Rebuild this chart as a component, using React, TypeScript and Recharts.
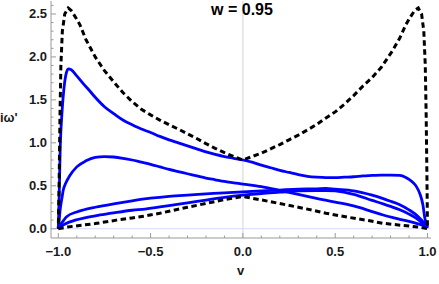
import React from 'react';
import { LineChart, Line, XAxis, YAxis, ReferenceLine } from 'recharts';

// values, as [v, iω'] pairs
const dashedLoop: [number, number][] = [
  [-1, 0], [-0.95, 0.02], [-0.865, 0.043], [-0.8, 0.06], [-0.684, 0.1], [-0.6, 0.125],
  [-0.53, 0.148], [-0.45, 0.18], [-0.377, 0.215], [-0.3, 0.25], [-0.196, 0.296], [-0.1, 0.34],
  [0, 0.375], [0.1, 0.335], [0.192, 0.296], [0.3, 0.25], [0.373, 0.218], [0.45, 0.18],
  [0.571, 0.133], [0.68, 0.095], [0.76, 0.063], [0.86, 0.04], [0.95, 0.02], [1, 0],
  [0.997, 0.6], [0.993, 1.3], [0.988, 1.9], [0.98, 2.3], [0.968, 2.5], [0.95, 2.57],
  [0.93, 2.54], [0.9, 2.44], [0.882, 2.37], [0.85, 2.22], [0.81, 2.07], [0.75, 1.88],
  [0.7, 1.76], [0.65, 1.66], [0.6, 1.55], [0.55, 1.45], [0.5, 1.36], [0.45, 1.29],
  [0.4, 1.215], [0.35, 1.15], [0.3, 1.09], [0.25, 1.035], [0.2, 0.98], [0.15, 0.93],
  [0.1, 0.88], [0.05, 0.84], [0, 0.8], [-0.05, 0.84], [-0.1, 0.885], [-0.15, 0.935],
  [-0.2, 0.99], [-0.25, 1.05], [-0.3, 1.105], [-0.35, 1.16], [-0.4, 1.21], [-0.45, 1.265],
  [-0.5, 1.325], [-0.55, 1.39], [-0.6, 1.48], [-0.65, 1.585], [-0.7, 1.71], [-0.75, 1.84],
  [-0.8, 2.0], [-0.85, 2.2], [-0.882, 2.37], [-0.9, 2.44], [-0.93, 2.54], [-0.946, 2.57],
  [-0.965, 2.5], [-0.978, 2.3], [-0.986, 1.9], [-0.991, 1.3], [-0.995, 0.6], [-1, 0],
];

const curveA: [number, number][] = [
  [-1, 0], [-0.995, 0.4], [-0.99, 0.9], [-0.98, 1.35], [-0.97, 1.62], [-0.96, 1.78],
  [-0.946, 1.86], [-0.93, 1.85], [-0.9, 1.78], [-0.865, 1.69], [-0.828, 1.6], [-0.8, 1.53],
  [-0.75, 1.42], [-0.7, 1.34], [-0.65, 1.265], [-0.6, 1.21], [-0.55, 1.16], [-0.5, 1.12],
  [-0.45, 1.075], [-0.4, 1.035], [-0.35, 1.0], [-0.3, 0.965], [-0.25, 0.93], [-0.2, 0.895],
  [-0.15, 0.865], [-0.1, 0.84], [-0.05, 0.82], [0, 0.8], [0.05, 0.775], [0.1, 0.74],
  [0.15, 0.71], [0.2, 0.68], [0.25, 0.655], [0.3, 0.63], [0.35, 0.61], [0.4, 0.6],
  [0.45, 0.595], [0.5, 0.595], [0.55, 0.6], [0.6, 0.605], [0.65, 0.615], [0.7, 0.62],
  [0.75, 0.625], [0.8, 0.625], [0.85, 0.62], [0.88, 0.6], [0.9, 0.575], [0.92, 0.54],
  [0.94, 0.49], [0.96, 0.4], [0.975, 0.28], [0.986, 0.12], [1, 0.01],
];

const curveB: [number, number][] = [
  [-1, 0], [-0.995, 0.1], [-0.99, 0.22], [-0.98, 0.36], [-0.973, 0.45], [-0.96, 0.53],
  [-0.94, 0.61], [-0.9, 0.72], [-0.85, 0.79], [-0.8, 0.83], [-0.75, 0.84], [-0.7, 0.835],
  [-0.65, 0.82], [-0.6, 0.8], [-0.55, 0.775], [-0.5, 0.75], [-0.45, 0.72], [-0.4, 0.69],
  [-0.35, 0.665], [-0.3, 0.64], [-0.25, 0.615], [-0.2, 0.59], [-0.15, 0.57], [-0.1, 0.55],
  [-0.05, 0.535], [0, 0.52], [0.1, 0.49], [0.192, 0.45], [0.3, 0.4], [0.373, 0.365],
  [0.5, 0.31], [0.6, 0.265], [0.7, 0.2], [0.76, 0.16], [0.85, 0.11], [0.94, 0.063],
  [0.98, 0.035], [1, 0.01],
];

const curveC: [number, number][] = [
  [-1, 0], [-0.99, 0.04], [-0.97, 0.1], [-0.955, 0.14], [-0.9, 0.195], [-0.865, 0.218],
  [-0.8, 0.25], [-0.7, 0.29], [-0.6, 0.325], [-0.5, 0.355], [-0.4, 0.377], [-0.3, 0.392],
  [-0.2, 0.405], [-0.1, 0.418], [0, 0.43], [0.1, 0.44], [0.2, 0.45], [0.3, 0.46],
  [0.4, 0.465], [0.45, 0.47], [0.5, 0.46], [0.6, 0.44], [0.7, 0.39], [0.76, 0.35],
  [0.8, 0.32], [0.85, 0.28], [0.9, 0.22], [0.95, 0.14], [0.98, 0.07], [1, 0.01],
];

const curveD: [number, number][] = [
  [-1, 0], [-0.99, 0.02], [-0.937, 0.08], [-0.85, 0.13], [-0.774, 0.16], [-0.7, 0.185],
  [-0.6, 0.215], [-0.53, 0.228], [-0.4, 0.27], [-0.3, 0.3], [-0.2, 0.334], [-0.1, 0.365],
  [0, 0.39], [0.1, 0.41], [0.2, 0.425], [0.3, 0.44], [0.4, 0.445], [0.45, 0.445],
  [0.5, 0.44], [0.6, 0.4], [0.7, 0.33], [0.76, 0.29], [0.8, 0.26], [0.85, 0.22],
  [0.9, 0.17], [0.94, 0.12], [0.97, 0.07], [1, 0.01],
];

const xTicks = [-1, -0.9, -0.8, -0.7, -0.6, -0.5, -0.4, -0.3, -0.2, -0.1, 0, 0.1, 0.2, 0.3, 0.4, 0.5, 0.6, 0.7, 0.8, 0.9, 1];
const yTicks = [0, 0.1, 0.2, 0.3, 0.4, 0.5, 0.6, 0.7, 0.8, 0.9, 1, 1.1, 1.2, 1.3, 1.4, 1.5, 1.6, 1.7, 1.8, 1.9, 2, 2.1, 2.2, 2.3, 2.4, 2.5, 2.6];

const toPoints = (pts: [number, number][]) => pts.map(([v, w]) => ({ v, w }));

const FRAME = '#9a9a9a';
const FONT = '"Liberation Sans", Arial, sans-serif';
const isMajor = (n: number) => Math.abs(n * 2 - Math.round(n * 2)) < 1e-6;
const fmt = (n: number) => (n < 0 ? '\u2212' : '') + Math.abs(n).toFixed(1);
const labelStyle = { fontFamily: FONT, fontWeight: 700, fontSize: 13, fill: '#1a1a1a' };

const BottomTick = (props: any) => {
  const { x, y, payload } = props;
  const major = isMajor(payload.value);
  return (
    <g>
      <line x1={x} x2={x} y1={y} y2={y - (major ? 5 : 2.5)} stroke={FRAME} />
      {major && (
        <text x={x} y={y + 18} textAnchor="middle" {...labelStyle}>
          {fmt(payload.value)}
        </text>
      )}
    </g>
  );
};

const TopTick = (props: any) => {
  const { x, y, payload } = props;
  const major = isMajor(payload.value);
  return <line x1={x} x2={x} y1={y} y2={y + (major ? 5 : 2.5)} stroke={FRAME} />;
};

const LeftTick = (props: any) => {
  const { x, y, payload } = props;
  const major = isMajor(payload.value);
  return (
    <g>
      <line x1={x} x2={x + (major ? 5 : 2.5)} y1={y} y2={y} stroke={FRAME} />
      {major && (
        <text x={x - 4} y={y + 4.5} textAnchor="end" {...labelStyle}>
          {fmt(payload.value)}
        </text>
      )}
    </g>
  );
};

const RightTick = (props: any) => {
  const { x, y, payload } = props;
  const major = isMajor(payload.value);
  return <line x1={x} x2={x - (major ? 5 : 2.5)} y1={y} y2={y} stroke={FRAME} />;
};

const X_DOMAIN = [-1.0395, 1.019];
const Y_DOMAIN = [-0.108, 2.651];

const App: React.FC = () => {
  const blue = [curveA, curveB, curveC, curveD];
  return (
    <div style={{ position: 'absolute', left: 0, top: 0, width: 439, height: 284, background: '#fff' }}>
      <LineChart width={439} height={284} margin={{ top: 1, right: 8, bottom: 0, left: 0 }}>
        <XAxis
          dataKey="v"
          type="number"
          domain={X_DOMAIN}
          ticks={xTicks}
          interval={0}
          allowDataOverflow
          height={46}
          tickSize={0}
          tickMargin={0}
          axisLine={{ stroke: FRAME }}
          tick={<BottomTick />}
        />
        <XAxis
          xAxisId="top"
          orientation="top"
          dataKey="v"
          type="number"
          domain={X_DOMAIN}
          ticks={xTicks}
          interval={0}
          allowDataOverflow
          height={0}
          tickSize={0}
          tickMargin={0}
          axisLine={{ stroke: FRAME }}
          tick={<TopTick />}
        />
        <YAxis
          type="number"
          domain={Y_DOMAIN}
          ticks={yTicks}
          interval={0}
          allowDataOverflow
          width={51}
          tickSize={0}
          tickMargin={0}
          axisLine={{ stroke: FRAME }}
          tick={<LeftTick />}
        />
        <YAxis
          yAxisId="right"
          orientation="right"
          type="number"
          domain={Y_DOMAIN}
          ticks={yTicks}
          interval={0}
          allowDataOverflow
          width={0}
          tickSize={0}
          tickMargin={0}
          axisLine={{ stroke: FRAME }}
          tick={<RightTick />}
        />
        <ReferenceLine x={0} stroke="#e2e2e2" strokeWidth={1.5} />
        <ReferenceLine y={0} stroke="#d6d6ff" strokeWidth={1} />
        {blue.map((c, i) => (
          <Line
            key={i}
            data={toPoints(c)}
            dataKey="w"
            type="monotone"
            stroke="#0000ff"
            strokeWidth={2.8}
            dot={false}
            isAnimationActive={false}
          />
        ))}
        <Line
          data={toPoints(dashedLoop)}
          dataKey="w"
          type="linear"
          stroke="#000"
          strokeWidth={3}
          strokeDasharray="5.5 3.5"
          dot={false}
          isAnimationActive={false}
        />
      </LineChart>
      <div style={{ position: 'absolute', left: 0, top: 110, fontFamily: FONT, fontWeight: 700, fontSize: 13, color: '#1a1a1a' }}>
        iω'
      </div>
      <div style={{ position: 'absolute', left: 237, top: 263, fontFamily: FONT, fontWeight: 700, fontSize: 13, color: '#1a1a1a' }}>
        v
      </div>
      <div style={{ position: 'absolute', left: 0, width: 484, top: 1, textAlign: 'center', fontFamily: FONT, fontWeight: 700, fontSize: 16, color: '#000' }}>
        w = 0.95
      </div>
    </div>
  );
};

export default App;
